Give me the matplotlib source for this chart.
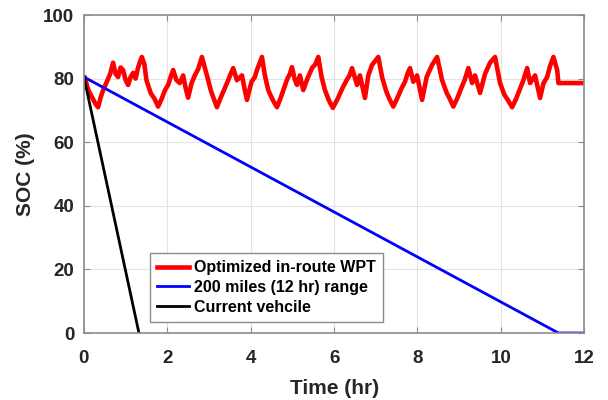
import matplotlib
matplotlib.use("Agg")
from matplotlib import pyplot as plt

# =========================
# DANE
# =========================
t_wpt = [0.0, 0.02, 0.08, 0.12, 0.18, 0.22, 0.28, 0.34, 0.40, 0.45, 0.50, 0.58, 0.63, 0.70,
         0.76, 0.82, 0.88, 0.94, 1.00, 1.06, 1.12, 1.18, 1.24, 1.30, 1.35, 1.39,
         1.45, 1.50, 1.60, 1.70, 1.78, 1.86, 1.95, 2.02, 2.08, 2.14, 2.22, 2.30, 2.38,
         2.44, 2.50, 2.58, 2.66, 2.74, 2.83, 2.96, 3.05, 3.12, 3.19,
         3.28, 3.38, 3.46, 3.52, 3.58, 3.67, 3.79, 3.85, 3.91, 4.02, 4.10, 4.15, 4.27,
         4.34, 4.42, 4.52, 4.63, 4.72, 4.80, 4.88, 4.94, 4.99, 5.05, 5.11, 5.18,
         5.26, 5.36, 5.47, 5.55, 5.62, 5.70, 5.78, 5.88, 5.97, 6.08, 6.20, 6.30, 6.37,
         6.43, 6.55, 6.62, 6.74, 6.82, 6.91, 7.06, 7.15,
         7.25, 7.33, 7.42, 7.52, 7.62, 7.70, 7.76, 7.82, 7.90, 7.99, 8.11, 8.22, 8.35,
         8.47, 8.59, 8.70, 8.78, 8.86, 8.96, 9.05, 9.13,
         9.22, 9.31, 9.38, 9.50, 9.62, 9.74, 9.86, 9.98, 10.08, 10.18, 10.27, 10.36,
         10.45, 10.54, 10.63, 10.70, 10.82, 10.94, 11.02, 11.11, 11.18, 11.26, 11.35,
         11.38, 11.95, 12.0]
soc_wpt = [80.5, 80.5, 77.5, 76.0, 74.5, 73.5, 72.0, 71.0, 74.0, 76.0, 77.5, 80.0, 81.5, 85.0,
           81.5, 80.5, 83.5, 82.7, 79.5, 78.0, 80.5, 81.8, 80.0, 83.5, 85.5, 86.8,
           84.5, 79.5, 75.5, 73.5, 71.2, 73.5, 76.5, 78.0, 80.5, 82.7, 79.5, 78.6, 81.0,
           77.0, 74.0, 78.5, 81.0, 83.0, 86.8, 80.5, 76.0, 73.5, 71.0,
           74.0, 77.0, 79.5, 81.5, 83.3, 79.5, 81.0, 77.0, 73.3, 79.0, 80.5, 82.7, 86.8,
           81.0, 76.4, 73.5, 71.0, 74.0, 77.0, 80.0, 81.5, 83.6, 80.0, 78.0, 81.0,
           76.4, 80.0, 83.3, 84.5, 86.8, 80.5, 76.4, 73.0, 70.8, 73.5, 77.0, 79.5, 81.0,
           83.3, 78.0, 81.0, 73.9, 81.0, 84.3, 86.8, 80.5,
           76.0, 73.5, 71.2, 74.0, 77.0, 79.0, 81.5, 83.3, 79.0, 81.0, 73.3, 80.5, 84.3,
           86.8, 79.5, 75.5, 73.5, 71.2, 74.0, 77.0, 79.5,
           83.3, 78.6, 81.0, 75.5, 81.5, 85.0, 86.8, 78.6, 75.0, 73.0, 71.0, 73.5,
           76.5, 79.5, 83.3, 78.6, 81.0, 73.9, 78.5, 80.5, 84.0, 86.8, 82.7,
           78.6, 78.6, 78.6]

t_200mi = [0.0, 11.38, 12.0]
soc_200mi = [80.5, 0.0, 0.0]

t_current = [0.0, 1.32]
soc_current = [80.5, 0.0]

labels = ["Optimized in-route WPT", "200 miles (12 hr) range", "Current vehcile"]

# =========================
# WYKRES
# =========================
plt.rcParams["font.family"] = ["Liberation Sans", "DejaVu Sans"]
plt.rcParams["font.weight"] = "bold"

fig = plt.figure(figsize=(6.08, 4.0), dpi=100)
ax = fig.add_axes([0.138, 0.1675, 0.823, 0.795])

ax.plot(t_wpt, soc_wpt, color="#ff0000", lw=3.3, label=labels[0])
ax.plot(t_200mi, soc_200mi, color="#0000ff", lw=2.0, label=labels[1])
ax.plot(t_current, soc_current, color="black", lw=2.0, label=labels[2])

ax.set_xlim(0, 12)
ax.set_ylim(0, 100)
ax.set_xticks(range(0, 13, 2))
ax.set_yticks(range(0, 101, 20))
ax.grid(True, color="#e3e3e3", lw=0.8)
ax.set_axisbelow(True)

for s in ax.spines.values():
    s.set_color("#8c8c8c")
    s.set_linewidth(1.2)
ax.tick_params(direction="in", length=4, colors="#8c8c8c", labelcolor="#262626",
               labelsize=13.5, top=True, right=True)
ax.tick_params(axis="x", pad=12)
ax.tick_params(axis="y", pad=7)
for lab in ax.get_xticklabels() + ax.get_yticklabels():
    lab.set_fontweight("bold")

ax.set_xlabel("Time (hr)", fontsize=15, fontweight="bold", color="#262626", labelpad=9)
ax.set_ylabel("SOC (%)", fontsize=15, fontweight="bold", color="#262626", labelpad=6)

leg = ax.legend(loc="lower left", bbox_to_anchor=(0.132, 0.035), borderaxespad=0,
                frameon=True, fancybox=False, edgecolor="#8c8c8c", framealpha=1,
                handlelength=2.0, handletextpad=0.3, borderpad=0.45, labelspacing=0.3,
                prop={"weight": "bold", "size": 11.5})
leg.get_frame().set_linewidth(1.0)

fig.savefig("out.png", dpi=100)
plt.close()
